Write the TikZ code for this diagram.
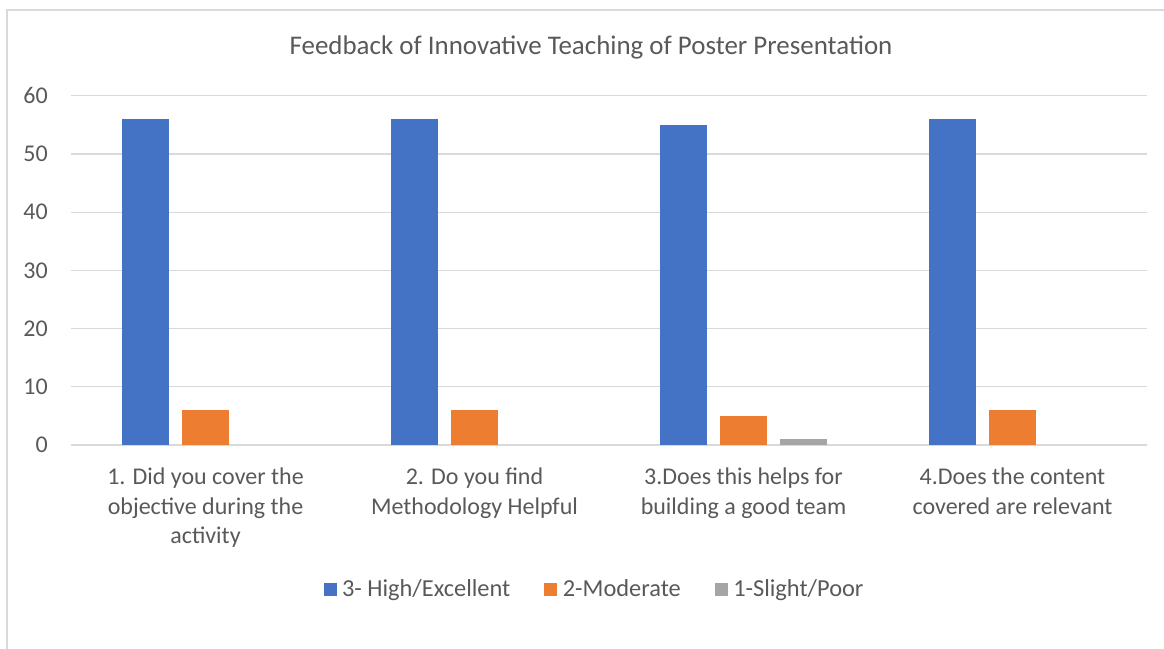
\documentclass[tikz,border=0pt]{standalone}
\usepackage{fontspec}
\setmainfont{Carlito}
\usetikzlibrary{positioning}

\definecolor{txtgray}{HTML}{595959}
\definecolor{gridgray}{HTML}{D9D9D9}
\definecolor{highblue}{HTML}{4472C4}
\definecolor{modorange}{HTML}{ED7D31}
\definecolor{poorgray}{HTML}{A5A5A5}

\tikzset{
    ticklabel/.style={anchor=east, inner sep=0pt, text=txtgray, font=\fontsize{18}{20}\selectfont},
    catlabel/.style={anchor=north, inner sep=0pt, align=center, text=txtgray, font=\fontsize{18}{21.9}\selectfont},
    legendtext/.style={anchor=west, inner sep=0pt, text height=11.8pt, text depth=0pt, text=txtgray, font=\fontsize{18.3}{20}\selectfont},
    legendkey/.style={minimum size=9.75pt, inner sep=0pt},
}

\begin{document}
\begin{tikzpicture}[x=0.75pt, y=-0.75pt]
    \useasboundingbox (0, 0) rectangle (1164, 649);

        % chart frame
        \draw[gridgray, line width=1.2pt] (7, 649) -- (7, 10) -- (1164, 10);

        \node[text=txtgray, inner sep=0pt, font=\fontsize{20.2}{24}\selectfont] (title) at (591, 47)
        {Feedback of Innovative Teaching of Poster Presentation};

        % gridlines and values
        \foreach \v in {0, 10, ..., 60} {
            \draw[gridgray, line width=1pt] (71, {445 - \v*5.82}) -- (1147, {445 - \v*5.82});
            \node[ticklabel] (tick\v) at (48, {445 - \v*5.82}) {\v};
        }

        % bars: centre of group / high / moderate / poor
        \foreach \cx/\hi/\mo/\po [count=\i] in {205.5/56/6/0, 474.5/56/6/0, 743.5/55/5/1, 1012.5/56/6/0} {
            \fill[highblue] ({\cx - 83.5}, 445) rectangle ({\cx - 36.5}, {445 - \hi*5.82});
            \fill[modorange] ({\cx - 23.5}, 445) rectangle ({\cx + 23.5}, {445 - \mo*5.82});
            \ifnum\po>0
                \fill[poorgray] ({\cx + 36.5}, 445) rectangle ({\cx + 83.5}, {445 - \po*5.82});
            \fi
        }

        % category labels
        \node[catlabel] (cat1) at (205.5, 468) {1. Did you cover the\\objective during the\\activity};
        \node[catlabel] (cat2) at (474.5, 468) {2. Do you find\\Methodology Helpful};
        \node[catlabel] (cat3) at (743.5, 468) {3.Does this helps for\\building a good team};
        \node[catlabel] (cat4) at (1012.5, 468) {4.Does the content\\covered are relevant};

        % legend
        \node[legendkey, fill=highblue] (keyhigh) at (330, 589) {};
        \node[legendtext, right=3.75pt of keyhigh] (labhigh) {3- High/Excellent};
        \node[legendkey, fill=modorange, right=25pt of labhigh] (keymod) {};
        \node[legendtext, right=3.75pt of keymod] (labmod) {2-Moderate};
        \node[legendkey, fill=poorgray, right=25pt of labmod] (keypoor) {};
        \node[legendtext, right=3.75pt of keypoor] (labpoor) {1-Slight/Poor};

\end{tikzpicture}
\end{document}
